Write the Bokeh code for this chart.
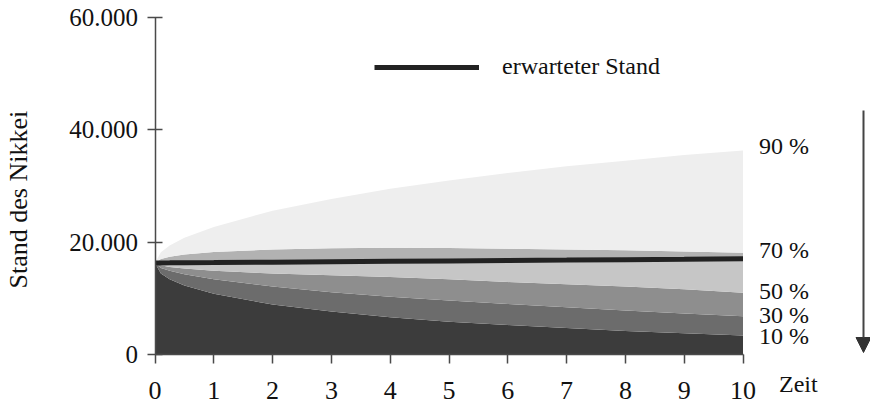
import math
from bokeh.plotting import figure
from bokeh.models import (Range1d, Label, Arrow, NormalHead, Legend, LegendItem,
                          FixedTicker, ColumnDataSource)
from bokeh.embed import file_html
from bokeh.resources import INLINE

# ---- data ----
zeit = [0, 0.1, 0.25, 0.5, 1, 2, 3, 4, 5, 6, 7, 8, 9, 10]
q90 = [16300, 18200, 19400, 20800, 22700, 25600, 27700, 29500, 31000, 32300, 33500, 34500, 35500, 36300]
q70 = [16300, 17000, 17400, 17800, 18250, 18700, 18900, 19000, 18950, 18850, 18700, 18550, 18350, 18100]
erwartet = [16300, 16310, 16320, 16340, 16370, 16440, 16520, 16590, 16660, 16740, 16810, 16890, 16960, 17050]
q50 = [16300, 15900, 15600, 15300, 14900, 14400, 14100, 13800, 13400, 12900, 12500, 12100, 11600, 11000]
q30 = [16300, 15400, 14900, 14300, 13400, 12100, 11100, 10300, 9600, 9000, 8400, 7850, 7300, 6800]
q10 = [16300, 14400, 13400, 12300, 10800, 8900, 7650, 6650, 5850, 5250, 4700, 4200, 3800, 3400]

x_ticks = [0, 1, 2, 3, 4, 5, 6, 7, 8, 9, 10]
y_ticks = [0, 20000, 40000, 60000]
y_tick_labels = ["0", "20.000", "40.000", "60.000"]
pct_labels = ["90 %", "70 %", "50 %", "30 %", "10 %"]

FONT = "Liberation Serif"
FS = "24px"

# ---- layout (pixel geometry of the picture) ----
W, H = 870, 406
X0_PX, PX_PER_T = 154.5, 58.8        # x position of t=0, pixels per time unit
Y0_PX, PX_PER_V = 354.0, 337.0 / 60000  # y position of value 0, pixels per index point
x_start = -X0_PX / PX_PER_T
x_end = (W - X0_PX) / PX_PER_T
y_end = Y0_PX / PX_PER_V
y_start = -(H - Y0_PX) / PX_PER_V

src = ColumnDataSource(dict(t=zeit, q90=q90, q70=q70, ew=erwartet, q50=q50,
                            q30=q30, q10=q10, base=[0] * len(zeit)))

p = figure(width=W, height=H, output_backend="svg", toolbar_location=None,
           x_range=Range1d(x_start, x_end), y_range=Range1d(y_start, y_end),
           min_border=0)
p.outline_line_color = None
p.grid.visible = False
p.background_fill_color = "white"
p.border_fill_color = "white"

# bands
p.varea(x="t", y1="base", y2="q10", source=src, fill_color="#3c3c3c")
p.varea(x="t", y1="q10", y2="q30", source=src, fill_color="#6c6c6c")
p.varea(x="t", y1="q30", y2="q50", source=src, fill_color="#8e8e8e")
p.varea(x="t", y1="q50", y2="ew", source=src, fill_color="#c6c6c6")
p.varea(x="t", y1="ew", y2="q70", source=src, fill_color="#b2b2b2")
p.varea(x="t", y1="q70", y2="q90", source=src, fill_color="#eeeeee")
line = p.line(x="t", y="ew", source=src, line_color="#222222", line_width=5)

# axes drawn at t=0 / value=0 inside a full-size frame
xa = p.xaxis[0]
ya = p.yaxis[0]
for ax in (xa, ya):
    ax.axis_line_color = "#4a4a4a"
    ax.axis_line_width = 1.5
    ax.major_tick_line_color = "#4a4a4a"
    ax.major_tick_line_width = 1.5
    ax.minor_tick_line_color = None
    ax.major_label_text_font = FONT
    ax.major_label_text_color = "#111111"

xa.fixed_location = 0
xa.bounds = (x_ticks[0], x_ticks[-1])
xa.ticker = FixedTicker(ticks=x_ticks)
xa.major_tick_in = 0
xa.major_tick_out = 9
xa.major_label_standoff = 18
xa.major_label_text_font_size = "26px"

ya.fixed_location = 0
ya.bounds = (y_ticks[0], y_ticks[-1])
ya.ticker = FixedTicker(ticks=y_ticks)
ya.major_label_overrides = {k: v for k, v in zip(y_ticks, y_tick_labels)}
ya.major_tick_in = 7
ya.major_tick_out = 8
ya.major_label_standoff = 9
ya.major_label_text_font_size = "25px"

# y axis title
p.add_layout(Label(x=0, y=27400, x_offset=-137, y_offset=1, text="Stand des Nikkei",
                   angle=math.pi / 2, text_align="center", text_baseline="middle",
                   text_font=FONT, text_font_size="26px", text_color="#111111"))

# x axis title
p.add_layout(Label(x=x_ticks[-1], y=0, x_offset=36, y_offset=-29, text="Zeit",
                   text_align="left", text_baseline="middle",
                   text_font=FONT, text_font_size=FS, text_color="#111111"))

# percent labels at right edge
ends = [q90[-1], q70[-1], q50[-1], q30[-1], q10[-1]]
offs = [5, 3, 2, 1, -1]
for lab, yv, oy in zip(pct_labels, ends, offs):
    p.add_layout(Label(x=zeit[-1], y=yv, x_offset=16, y_offset=oy, text=lab,
                       text_align="left", text_baseline="middle",
                       text_font=FONT, text_font_size=FS, text_color="#111111"))

# downward arrow at the right
arrow_t = (863 - X0_PX) / PX_PER_T
p.add_layout(Arrow(end=NormalHead(size=15, fill_color="#333333", line_color="#333333"),
                   x_start=arrow_t, y_start=(Y0_PX - 110) / PX_PER_V,
                   x_end=arrow_t, y_end=(Y0_PX - 352) / PX_PER_V,
                   line_color="#444444", line_width=2))

# legend
legend = Legend(items=[LegendItem(label="erwarteter Stand", renderers=[line])],
                location=(374, 326), glyph_width=105, glyph_height=26,
                label_standoff=23, padding=0, margin=0, border_line_color=None,
                background_fill_alpha=0, label_text_font=FONT,
                label_text_font_size=FS, label_height=26, label_text_color="#111111")
p.add_layout(legend)

open("out.html", "w").write(file_html(p, INLINE))
